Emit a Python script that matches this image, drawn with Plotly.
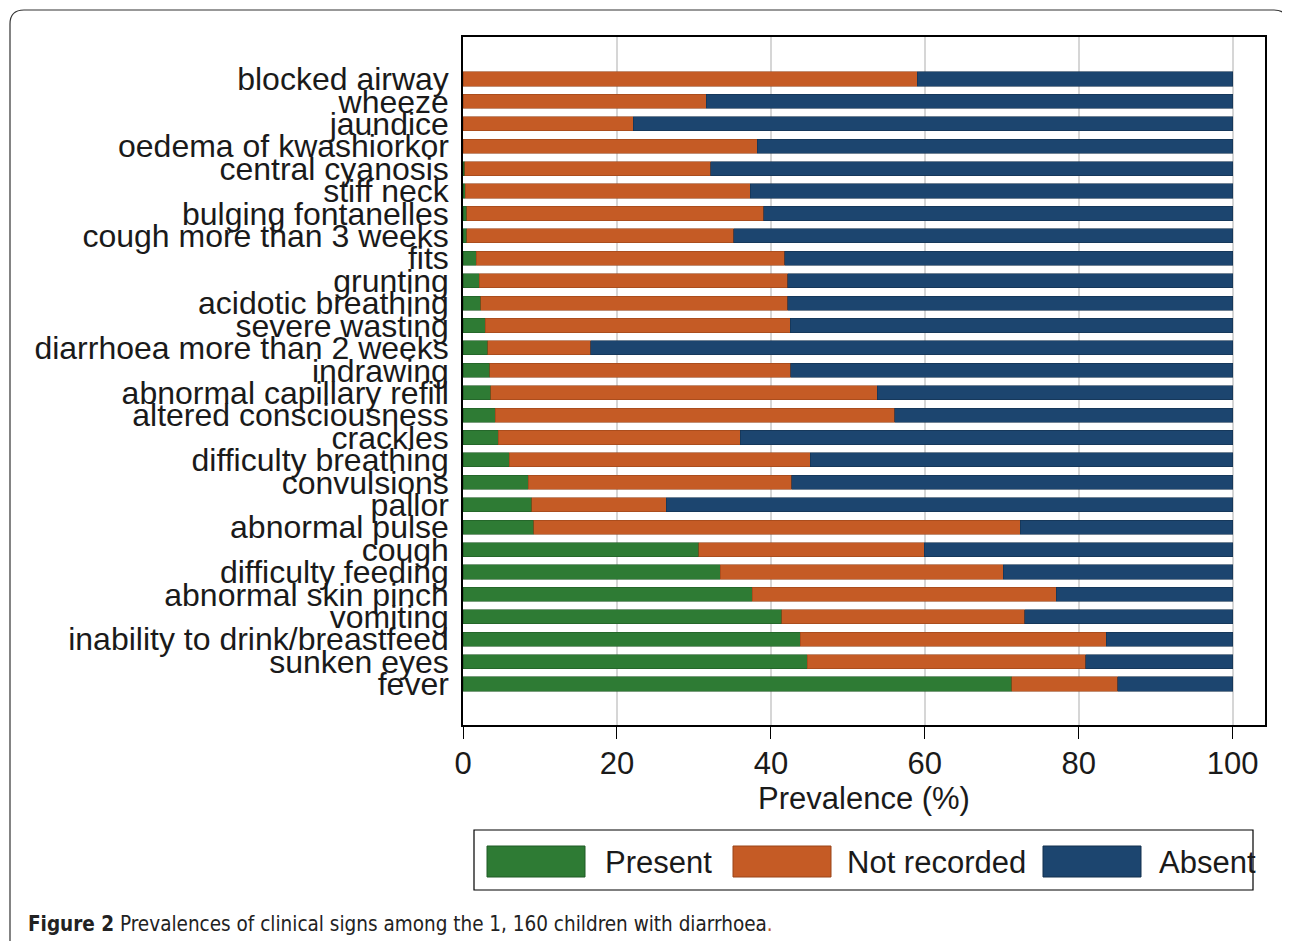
import plotly.graph_objects as go

categories = [
    "blocked airway", "wheeze", "jaundice", "oedema of kwashiorkor", "central cyanosis",
    "stiff neck", "bulging fontanelles", "cough more than 3 weeks", "fits", "grunting",
    "acidotic breathing", "severe wasting", "diarrhoea more than 2 weeks", "indrawing",
    "abnormal capillary refill", "altered consciousness", "crackles", "difficulty breathing",
    "convulsions", "pallor", "abnormal pulse", "cough", "difficulty feeding",
    "abnormal skin pinch", "vomiting", "inability to drink/breastfeed", "sunken eyes", "fever",
]
present = [0.0, 0.0, 0.0, 0.0, 0.2, 0.3, 0.5, 0.5, 1.7, 2.1, 2.3, 2.9, 3.2, 3.5,
           3.6, 4.2, 4.6, 6.0, 8.5, 8.9, 9.2, 30.6, 33.4, 37.6, 41.4, 43.8, 44.7, 71.3]
not_recorded = [59.0, 31.6, 22.1, 38.2, 32.0, 37.0, 38.6, 34.7, 40.1, 40.1, 39.9, 39.6, 13.4, 39.1,
                50.2, 51.9, 31.4, 39.1, 34.2, 17.5, 63.2, 29.3, 36.8, 39.5, 31.6, 39.8, 36.2, 13.8]
absent = [41.0, 68.4, 77.9, 61.8, 67.8, 62.7, 60.9, 64.8, 58.2, 57.8, 57.8, 57.5, 83.4, 57.4,
          46.2, 43.9, 64.0, 54.9, 57.3, 73.6, 27.6, 40.1, 29.8, 22.9, 27.0, 16.4, 19.1, 14.9]
series_names = ["Present", "Not recorded", "Absent"]
series_colors = ["#2e7b34", "#c55b25", "#1c456f"]
x_ticks = [0, 20, 40, 60, 80, 100]
x_title = "Prevalence (%)"
caption_bold = "Figure 2"
caption_text = " Prevalences of clinical signs among the 1, 160 children with diarrhoea"

OFF = 8  # page body margin
W, H = 1290 - OFF, 941 - OFF
L, R, T, B = 463 - OFF, 1265 - OFF, 37 - OFF, 725 - OFF
FONT = "Liberation Sans, Arial, Helvetica, sans-serif"


def px(x):
    return (x - OFF - L) / (R - L)


def py(y):
    return (B - (y - OFF)) / (B - T)


fig = go.Figure()
edge_colors = ["#1f5a24", "#9a4419", "#12314f"]
for name, vals, col, ec in zip(series_names, [present, not_recorded, absent], series_colors, edge_colors):
    fig.add_trace(go.Bar(
        y=categories, x=vals, name=name, orientation="h",
        marker=dict(color=col, line=dict(color=ec, width=0.6)),
        showlegend=False,
    ))

n = len(categories)
fig.update_layout(
    barmode="stack",
    bargap=0.37,
    width=W, height=H,
    margin=dict(l=L, r=W - R, t=T, b=H - B, pad=0),
    paper_bgcolor="white",
    plot_bgcolor="white",
    font=dict(family=FONT, size=31, color="#1a1a1a"),
    xaxis=dict(
        range=[0, 104.2], tickvals=x_ticks, ticktext=[str(v) for v in x_ticks],
        showgrid=True, gridcolor="#d6d6d6", gridwidth=1.5,
        zeroline=False,
        showline=True, linecolor="black", linewidth=2, mirror=True,
        ticks="outside", ticklen=12, tickcolor="black", tickwidth=1,
        tickfont=dict(size=31),
        ticklabelstandoff=-2,
        title=dict(text=x_title, font=dict(size=31), standoff=0),
    ),
    yaxis=dict(
        categoryorder="array", categoryarray=categories,
        tickmode="array", tickvals=categories, ticktext=categories,
        range=[n - 1 + 1.83, -1.875],
        showgrid=False, zeroline=False,
        showline=True, linecolor="black", linewidth=1.5, mirror=True,
        ticks="", tickfont=dict(size=32),
        ticklabelstandoff=6,
    ),
)

shapes = []
# outer rounded frame
x0, x1, y0, y1, r = 10, 1288, 10, 960, 14
path = (f"M {px(x0)},{py(y1)} L {px(x0)},{py(y0 + r)} Q {px(x0)},{py(y0)} {px(x0 + r)},{py(y0)} "
        f"L {px(x1 - r)},{py(y0)} Q {px(x1)},{py(y0)} {px(x1)},{py(y0 + r)} L {px(x1)},{py(y1)}")
shapes.append(dict(type="path", xref="paper", yref="paper", path=path,
                   line=dict(color="#333333", width=1.2)))
# legend box
shapes.append(dict(type="rect", xref="paper", yref="paper",
                   x0=px(474), x1=px(1253), y0=py(830), y1=py(890),
                   line=dict(color="black", width=1.2), fillcolor="white"))
swatch_x = [487, 733, 1043]
label_x = [603, 845, 1157]
annotations = []
for sx, lx, name, col, ec in zip(swatch_x, label_x, series_names, series_colors, edge_colors):
    shapes.append(dict(type="rect", xref="paper", yref="paper",
                       x0=px(sx), x1=px(sx + 98), y0=py(846), y1=py(877),
                       line=dict(color=ec, width=1), fillcolor=col))
    annotations.append(dict(xref="paper", yref="paper", x=px(lx), y=py(862),
                            xanchor="left", yanchor="middle", showarrow=False,
                            text=name, font=dict(size=31, color="#1a1a1a")))
annotations.append(dict(xref="paper", yref="paper", x=px(26), y=py(924),
                        xanchor="left", yanchor="middle", showarrow=False,
                        text=f"<b>{caption_bold}</b>{caption_text}<span style='color:#c55b25'>.</span>",
                        font=dict(size=20.5, color="#222222",
                                  family="Liberation Sans Narrow, DejaVu Sans Condensed, Arial Narrow, sans-serif")))
fig.update_layout(shapes=shapes, annotations=annotations)

fig.write_html("out.html")
